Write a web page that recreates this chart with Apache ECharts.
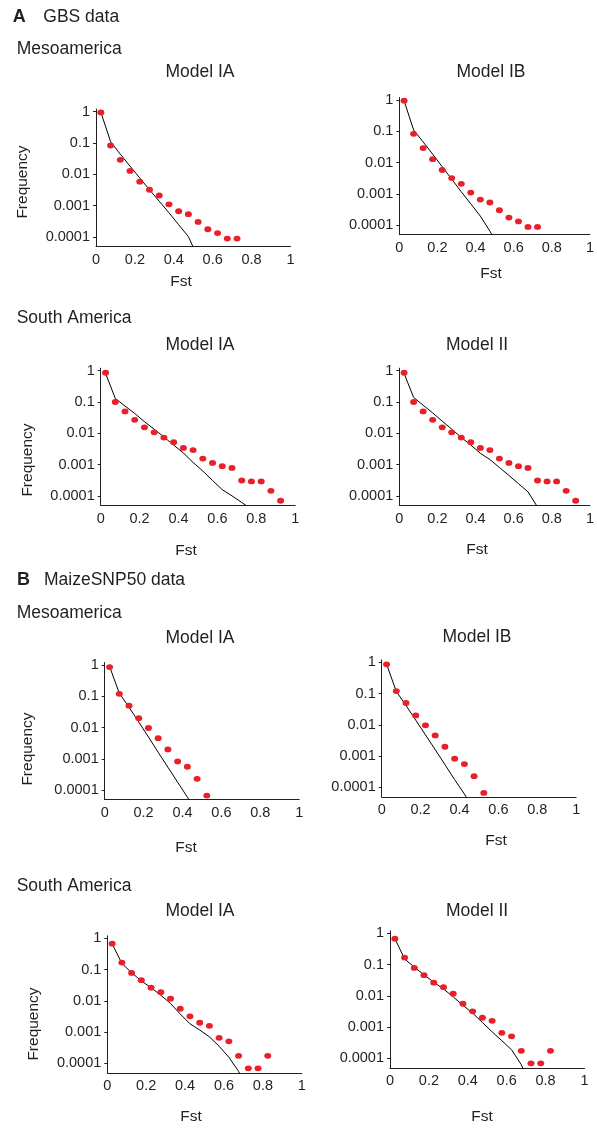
<!DOCTYPE html>
<html>
<head>
<meta charset="utf-8">
<script src="https://cdn.jsdelivr.net/npm/echarts@6/dist/echarts.min.js"></script>
<style>
  html, body { margin: 0; padding: 0; background: #fff; }
  #chart { width: 597px; height: 1128px; }
</style>
</head>
<body>
<div id="chart"></div>
<script>
// Fst bin centres shared by every panel
const fstBins = [0.025, 0.075, 0.125, 0.175, 0.225, 0.275, 0.325, 0.375, 0.425, 0.475,
                 0.525, 0.575, 0.625, 0.675, 0.725, 0.775, 0.825, 0.875, 0.925]

// observed frequencies (red dots), one array per data set / region
const gbsMesoObs = [0.95, 0.083, 0.029, 0.0128, 0.0058, 0.0032, 0.0021, 0.0011, 0.00066, 0.00053,
                    0.0003, 0.000175, 0.000132, 0.000088, 0.000088]
const gbsSouthObs = [0.86, 0.10, 0.050, 0.027, 0.0155, 0.0107, 0.0073, 0.0052, 0.0034, 0.0029,
                     0.00155, 0.00113, 0.00089, 0.00078, 0.00031, 0.00029, 0.00029, 0.000145, 0.00007]
const snpMesoObs = [0.86, 0.12, 0.05, 0.02, 0.0097, 0.0046, 0.002, 0.00083, 0.00056, 0.00023, 0.000067]
const snpSouthObs = [0.67, 0.167, 0.078, 0.046, 0.0265, 0.019, 0.0118, 0.0056, 0.0032, 0.002,
                     0.0016, 0.00066, 0.00051, 0.000175, 0.00007, 0.00007, 0.000175]

// model expectations (black lines), same bins
const gbsMesoModelIA = [0.955, 0.11, 0.0437, 0.0182, 0.0076, 0.0032, 0.00138, 0.00059, 0.000245, 0.000102, 0.000021]
const gbsMesoModelIB = [0.95, 0.11, 0.0457, 0.0186, 0.0074, 0.00295, 0.00117, 0.00048, 0.000195, 0.0000646, 0.00002]
const gbsSouthModelIA = [0.82, 0.13, 0.074, 0.043, 0.0234, 0.0135, 0.0076, 0.0042, 0.00234, 0.00117,
                         0.00062, 0.00031, 0.000158, 0.0001, 0.000062, 0.000037]
const gbsSouthModelII = [0.82, 0.14, 0.079, 0.0447, 0.0245, 0.0135, 0.0074, 0.0042, 0.00229, 0.00145,
                         0.00081, 0.00045, 0.000245, 0.000135, 0.000044]
const snpMesoModelIA = [0.89, 0.126, 0.0447, 0.0151, 0.005, 0.00162, 0.00054, 0.00018, 0.00006, 0.00002]
const snpMesoModelIB = [0.87, 0.117, 0.0417, 0.0141, 0.0048, 0.00162, 0.00054, 0.000178, 0.000062, 0.00002]
const snpSouthModelIA = [0.66, 0.158, 0.079, 0.0437, 0.0263, 0.0151, 0.0083, 0.0038, 0.00186, 0.00117,
                         0.00071, 0.000355, 0.000158, 0.000056, 0.0000126]
const snpSouthModelII = [0.68, 0.151, 0.083, 0.0468, 0.0275, 0.0166, 0.0093, 0.005, 0.00282, 0.00141,
                         0.00071, 0.00037, 0.00019, 0.000063, 0.0000126]

// axis ticks
const xTicks = [0, 0.2, 0.4, 0.6, 0.8, 1]
const xTickLabels = ['0', '0.2', '0.4', '0.6', '0.8', '1']
const yTicks = [0.0001, 0.001, 0.01, 0.1, 1]
const yTickLabels = ['0.0001', '0.001', '0.01', '0.1', '1']

// panels: observed + model, and where each plot sits on the page
const panels = [
  { obs: gbsMesoObs, model: gbsMesoModelIA, left: 96, top: 109.2 },
  { obs: gbsMesoObs, model: gbsMesoModelIB, left: 399.3, top: 97.5 },
  { obs: gbsSouthObs, model: gbsSouthModelIA, left: 100.7, top: 368.2 },
  { obs: gbsSouthObs, model: gbsSouthModelII, left: 399.3, top: 368.2 },
  { obs: snpMesoObs, model: snpMesoModelIA, left: 104.7, top: 662.5 },
  { obs: snpMesoObs, model: snpMesoModelIB, left: 381.7, top: 659.8 },
  { obs: snpSouthObs, model: snpSouthModelIA, left: 107.3, top: 935.8 },
  { obs: snpSouthObs, model: snpSouthModelII, left: 390, top: 930.8 },
]

// page texts: [text, x, y, size, bold, align, rotated]
const texts = [
  ['A', 12.7, 17, 18, true, 'left'],
  ['GBS data', 43.3, 17.5, 17.5, false, 'left'],
  ['Mesoamerica', 16.7, 49, 17.5, false, 'left'],
  ['Model IA', 200, 72, 17.5, false, 'center'],
  ['Model IB', 491, 72, 17.5, false, 'center'],
  ['South America', 16.7, 318, 17.5, false, 'left'],
  ['Model IA', 200, 345, 17.5, false, 'center'],
  ['Model II', 477, 345, 17.5, false, 'center'],
  ['B', 17, 580, 18, true, 'left'],
  ['MaizeSNP50 data', 44, 580, 17.5, false, 'left'],
  ['Mesoamerica', 16.7, 613, 17.5, false, 'left'],
  ['Model IA', 200, 638, 17.5, false, 'center'],
  ['Model IB', 477, 637, 17.5, false, 'center'],
  ['South America', 16.7, 886, 17.5, false, 'left'],
  ['Model IA', 200, 911, 17.5, false, 'center'],
  ['Model II', 477, 911, 17.5, false, 'center'],
  ['Fst', 181, 282, 15.5, false, 'center'],
  ['Fst', 491, 274, 15.5, false, 'center'],
  ['Fst', 186, 551, 15.5, false, 'center'],
  ['Fst', 477, 550, 15.5, false, 'center'],
  ['Fst', 186, 848, 15.5, false, 'center'],
  ['Fst', 496, 841, 15.5, false, 'center'],
  ['Fst', 191, 1117, 15.5, false, 'center'],
  ['Fst', 482, 1117, 15.5, false, 'center'],
  ['Frequency', 23, 182, 15.5, false, 'center', true],
  ['Frequency', 28, 460, 15.5, false, 'center', true],
  ['Frequency', 28, 749, 15.5, false, 'center', true],
  ['Frequency', 34, 1024, 15.5, false, 'center', true],
]

const FONT = 'Liberation Sans, Arial, sans-serif'
const INK = '#231f20'
const DOT = '#e8202a'

const grid = [], xAxis = [], yAxis = [], series = []

panels.forEach((p, i) => {
  grid.push({ left: p.left, top: p.top, width: 194.5, height: 137.1 })

  xAxis.push({
    type: 'value', gridIndex: i, min: 0, max: 1,
    splitLine: { show: false },
    axisLine: { lineStyle: { color: INK, width: 1 } },
    axisTick: { show: false },
    axisLabel: {
      customValues: xTicks,
      margin: 6,
      color: INK, fontFamily: FONT, fontSize: 14.5,
      formatter: v => xTickLabels[xTicks.findIndex(t => Math.abs(t - v) < 1e-6)] ?? ''
    }
  })

  yAxis.push({
    type: 'log', logBase: 10, gridIndex: i, min: 0.00005, max: 1.2,
    splitLine: { show: false },
    axisLine: { lineStyle: { color: INK, width: 1 } },
    axisTick: { customValues: yTicks, length: 3, lineStyle: { color: INK } },
    axisLabel: {
      customValues: yTicks,
      margin: 6,
      color: INK, fontFamily: FONT, fontSize: 14.5,
      formatter: v => {
        const k = yTicks.findIndex(t => Math.abs(Math.log10(t) - Math.log10(v)) < 0.01)
        return k < 0 ? '' : yTickLabels[k]
      }
    }
  })

  series.push({
    type: 'line', xAxisIndex: i, yAxisIndex: i,
    data: p.model.map((v, k) => [fstBins[k], v]),
    showSymbol: false, clip: true, silent: true,
    lineStyle: { color: '#000', width: 1 },
    z: 2
  })

  series.push({
    type: 'scatter', xAxisIndex: i, yAxisIndex: i,
    data: p.obs.map((v, k) => [fstBins[k], v]),
    symbol: 'circle', symbolSize: [7, 5.8],
    itemStyle: { color: DOT, opacity: 1 },
    silent: true,
    z: 3
  })
})

const graphic = texts.map(([text, x, y, size, bold, align, rotated]) => ({
  type: 'text', x, y,
  rotation: rotated ? Math.PI / 2 : 0,
  style: {
    text, fill: INK,
    fontFamily: FONT, fontSize: size, fontWeight: bold ? 'bold' : 'normal',
    align, verticalAlign: 'middle'
  }
}))

const chart = echarts.init(document.getElementById('chart'), null, { renderer: 'canvas' })
chart.setOption({
  animation: false,
  backgroundColor: '#fff',
  grid, xAxis, yAxis, series, graphic
})
</script>
</body>
</html>
